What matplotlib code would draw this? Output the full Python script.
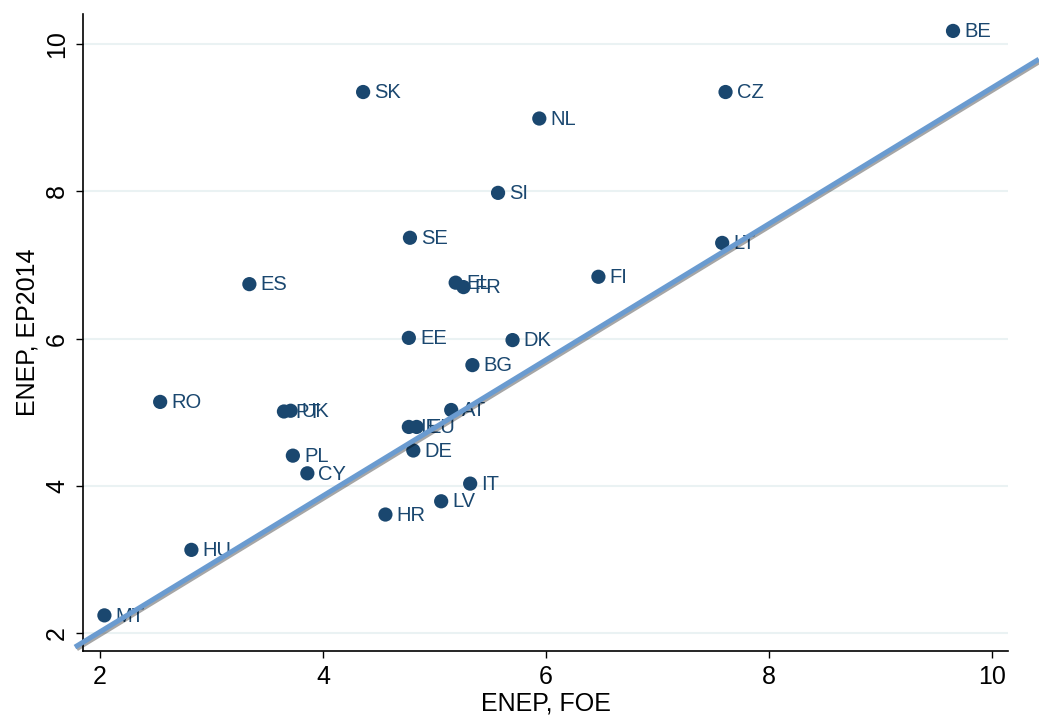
import numpy as np
import matplotlib.pyplot as plt
import matplotlib.patheffects as pe

plt.rcParams['font.family'] = ['Liberation Sans', 'DejaVu Sans']

# country codes with effective number of parties (FOE vs EP2014)
countries = ['BE', 'SK', 'CZ', 'NL', 'SI', 'SE', 'LT', 'ES', 'FI', 'EL',
             'FR', 'EE', 'DK', 'BG', 'RO', 'PT', 'UK', 'AT', 'IE', 'EU',
             'DE', 'PL', 'CY', 'IT', 'LV', 'HR', 'HU', 'MT']
enep_foe = [9.65, 4.36, 7.61, 5.94, 5.57, 4.78, 7.58, 3.34, 6.47, 5.19,
            5.26, 4.77, 5.70, 5.34, 2.54, 3.65, 3.71, 5.15, 4.77, 4.84,
            4.81, 3.73, 3.86, 5.32, 5.06, 4.56, 2.82, 2.04]
enep_ep = [10.18, 9.35, 9.35, 8.99, 7.98, 7.37, 7.30, 6.74, 6.84, 6.76,
           6.70, 6.01, 5.98, 5.64, 5.14, 5.01, 5.02, 5.03, 4.80, 4.80,
           4.48, 4.41, 4.17, 4.03, 3.79, 3.61, 3.13, 2.24]

# fitted line
fit_intercept = 0.168
fit_slope = 0.924
fit_x = [1.776, 10.42]

ticks = [2, 4, 6, 8, 10]

navy = '#1a476f'
lineblue = '#6a9bd0'

fig = plt.figure(figsize=(10.39, 7.2), dpi=100)
ax = fig.add_axes([83/1039, 69/720, 925/1039, 637/720])

ax.set_xlim(1.848, 10.143)
ax.set_ylim(1.756, 10.41)

for t in ticks:
    ax.axhline(t, color='#eaf2f3', lw=1.5, zorder=0)

ax.scatter(enep_foe, enep_ep, s=105, color=navy, edgecolors='none', zorder=3)
for c, x, y in zip(countries, enep_foe, enep_ep):
    ax.annotate(c, (x, y), xytext=(8, -0.5), textcoords='offset points',
                ha='left', va='center', fontsize=14.5, color=navy, zorder=4)

fx = np.array(fit_x)
ax.plot(fx, fit_intercept + fit_slope * fx, color=lineblue, lw=3.6,
        solid_capstyle='butt', clip_on=False, zorder=5,
        path_effects=[pe.SimpleLineShadow(offset=(1.2, -1.2), alpha=0.35),
                      pe.Normal()])

ax.spines['top'].set_visible(False)
ax.spines['right'].set_visible(False)
for s in ['left', 'bottom']:
    ax.spines[s].set_linewidth(1.2)

ax.set_xticks(ticks)
ax.set_yticks(ticks)
ax.tick_params(axis='both', length=5, width=1.0, labelsize=18, direction='out')
ax.tick_params(axis='x', pad=5)
ax.tick_params(axis='y', pad=5)
for lab in ax.get_yticklabels():
    lab.set_rotation(90)
    lab.set_va('center')

ax.set_xlabel('ENEP, FOE', fontsize=18, labelpad=2)
ax.set_ylabel('ENEP, EP2014', fontsize=18, labelpad=4)

fig.savefig('out.png', dpi=100)
